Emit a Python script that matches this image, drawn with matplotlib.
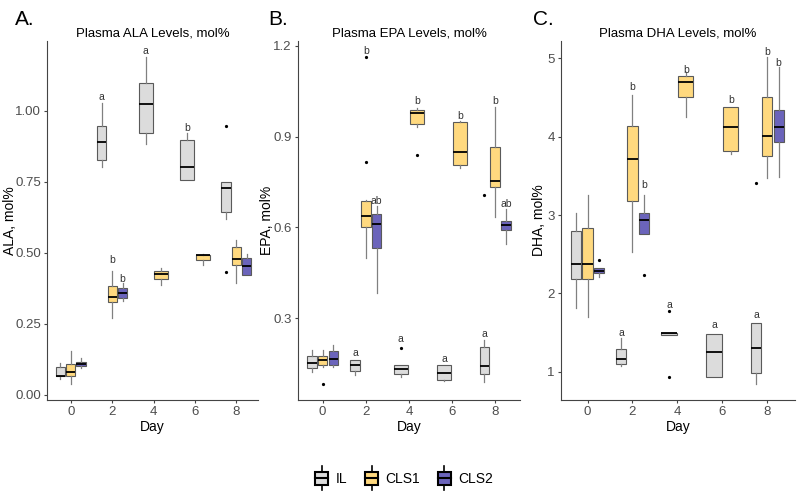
import matplotlib
matplotlib.use("Agg")
import matplotlib.pyplot as plt
from matplotlib.legend_handler import HandlerBase
from matplotlib.patches import Rectangle, Patch
from matplotlib.lines import Line2D

plt.rcParams['font.family'] = ['Liberation Sans', 'DejaVu Sans']

# ---- data: box stats as (whislo, q1, med, q3, whishi) ----
DAYS = [0, 2, 4, 6, 8]
CLS2_DAYS = [0, 2, 8]
GROUPS = ["IL", "CLS1", "CLS2"]
COLORS = {"IL": "#DCDCDC", "CLS1": "#FFD97F", "CLS2": "#6B64BB"}

# ALA
ALA_IL = [(0.055, 0.066, 0.068, 0.098, 0.112), (0.803, 0.826, 0.890, 0.945, 1.027),
          (0.881, 0.922, 1.025, 1.097, 1.188), (0.755, 0.755, 0.801, 0.895, 0.922),
          (0.619, 0.642, 0.729, 0.750, 0.750)]
ALA_IL_OUT = [[], [], [], [], [0.947, 0.431]]
ALA_CLS1 = [(0.039, 0.065, 0.081, 0.107, 0.154), (0.272, 0.327, 0.345, 0.384, 0.435),
            (0.386, 0.406, 0.427, 0.436, 0.448), (0.458, 0.474, 0.492, 0.493, 0.495),
            (0.394, 0.456, 0.479, 0.519, 0.545)]
ALA_CLS1_OUT = [[], [], [], [], []]
ALA_CLS2 = [(0.095, 0.102, 0.109, 0.116, 0.129), (0.331, 0.341, 0.360, 0.376, 0.394),
            (0.422, 0.422, 0.452, 0.482, 0.494)]
ALA_CLS2_OUT = [[], [], []]
ALA_LETTERS = [("IL", 2, "a", 1.047), ("IL", 4, "a", 1.211), ("IL", 6, "b", 0.939),
               ("CLS1", 2, "b", 0.474), ("CLS2", 2, "b", 0.408)]

# EPA
EPA_IL = [(0.122, 0.137, 0.152, 0.176, 0.196), (0.114, 0.125, 0.144, 0.161, 0.163),
          (0.106, 0.117, 0.131, 0.147, 0.147), (0.092, 0.097, 0.120, 0.144, 0.145),
          (0.088, 0.115, 0.143, 0.205, 0.227)]
EPA_IL_OUT = [[], [], [0.203], [], [0.708]]
EPA_CLS1 = [(0.139, 0.147, 0.161, 0.174, 0.196), (0.499, 0.603, 0.639, 0.687, 0.690),
            (0.933, 0.942, 0.977, 0.988, 0.995), (0.796, 0.805, 0.849, 0.947, 0.951),
            (0.634, 0.735, 0.752, 0.865, 0.999)]
EPA_CLS1_OUT = [[0.084], [1.162, 0.815], [0.838], [], []]
EPA_CLS2 = [(0.139, 0.145, 0.167, 0.191, 0.211), (0.384, 0.532, 0.610, 0.645, 0.670),
            (0.544, 0.590, 0.609, 0.621, 0.662)]
EPA_CLS2_OUT = [[], [], []]
EPA_LETTERS = [("IL", 2, "a", 0.185), ("IL", 4, "a", 0.233), ("IL", 6, "a", 0.165),
               ("IL", 8, "a", 0.249), ("CLS1", 2, "b", 1.182), ("CLS2", 2, "ab", 0.689),
               ("CLS1", 4, "b", 1.018), ("CLS1", 6, "b", 0.969), ("CLS1", 8, "b", 1.019),
               ("CLS2", 8, "ab", 0.678)]

# DHA
DHA_IL = [(1.82, 2.19, 2.37, 2.80, 3.03), (1.08, 1.10, 1.17, 1.29, 1.43),
          (1.47, 1.47, 1.49, 1.50, 1.50), (0.94, 0.94, 1.25, 1.48, 1.48),
          (0.85, 0.98, 1.31, 1.62, 1.62)]
DHA_IL_OUT = [[], [], [1.78, 0.94], [], [3.41]]
DHA_CLS1 = [(1.70, 2.19, 2.38, 2.84, 3.25), (2.53, 3.18, 3.71, 4.13, 4.53),
            (4.25, 4.50, 4.69, 4.77, 4.82), (3.78, 3.82, 4.12, 4.38, 4.38),
            (3.47, 3.75, 4.01, 4.51, 5.01)]
DHA_CLS1_OUT = [[], [], [], [], []]
DHA_CLS2 = [(2.21, 2.26, 2.29, 2.32, 2.32), (2.76, 2.76, 2.94, 3.02, 3.25),
            (3.49, 3.93, 4.12, 4.34, 4.89)]
DHA_CLS2_OUT = [[2.43], [2.24], []]
DHA_LETTERS = [("IL", 2, "a", 1.50), ("IL", 4, "a", 1.85), ("IL", 6, "a", 1.60),
               ("IL", 8, "a", 1.72), ("CLS1", 2, "b", 4.63), ("CLS2", 2, "b", 3.38),
               ("CLS1", 4, "b", 4.85), ("CLS1", 6, "b", 4.47), ("CLS1", 8, "b", 5.08),
               ("CLS2", 8, "b", 4.94)]

DODGE = 1.5  # total dodge width in days


def slots(present):
    # dodge2-like placement: groups present at each day share the width
    pos = {}
    for d in DAYS:
        here = [g for g in GROUPS if d in present[g]]
        n = len(here)
        w = DODGE / n
        for i, g in enumerate(here):
            pos[(g, d)] = (d - DODGE / 2 + w * (i + 0.5), w * 0.9)
    return pos


def draw_panel(ax, series, letters):
    present = {g: series[g][0] for g in GROUPS}
    pos = slots(present)
    for g in GROUPS:
        days, stats, outs = series[g]
        bx = []
        for s, o in zip(stats, outs):
            bx.append(dict(whislo=s[0], q1=s[1], med=s[2], q3=s[3], whishi=s[4], fliers=o))
        ax.bxp(bx, positions=[pos[(g, d)][0] for d in days],
               widths=[pos[(g, d)][1] for d in days],
               patch_artist=True, showcaps=False, manage_ticks=False,
               boxprops=dict(facecolor=COLORS[g], edgecolor="#5a5a5a", linewidth=0.8),
               medianprops=dict(color="black", linewidth=1.3),
               whiskerprops=dict(color="#808080", linewidth=0.9),
               flierprops=dict(marker="o", markersize=1.3, markerfacecolor="black",
                               markeredgecolor="black"))
    for g, d, t, y in letters:
        ax.text(pos[(g, d)][0], y, t, ha="center", va="center", fontsize=7.5, color="#333333")
    ax.spines["top"].set_visible(False)
    ax.spines["right"].set_visible(False)
    for s in ["left", "bottom"]:
        ax.spines[s].set_color("#444444")
        ax.spines[s].set_linewidth(0.8)
    ax.tick_params(colors="#444444", labelcolor="#4D4D4D", labelsize=9.5, length=2.5,
                   width=0.8, pad=2)
    ax.set_xticks(DAYS)
    ax.set_xlabel("Day", fontsize=10, labelpad=1)


class BoxKey(HandlerBase):
    def create_artists(self, legend, orig_handle, xdescent, ydescent, width, height,
                       fontsize, trans):
        x0, y0 = -xdescent, -ydescent
        cx = x0 + width / 2
        wl = Line2D([cx, cx], [y0 - 0.4 * height, y0 + 1.4 * height], color="black",
                    linewidth=1.2, transform=trans)
        box = Rectangle((x0, y0), width, height,
                        facecolor=orig_handle.get_facecolor(), edgecolor="black",
                        linewidth=1.5, transform=trans)
        med = Line2D([x0, x0 + width], [y0 + height / 2] * 2,
                     color="black", linewidth=1.5, transform=trans)
        return [wl, box, med]


fig = plt.figure(figsize=(8, 4.96), dpi=100)
bottom = 96 / 496
height = 359 / 496
axA = fig.add_axes([47 / 800, bottom, 211 / 800, height])
axB = fig.add_axes([298 / 800, bottom, 222 / 800, height])
axC = fig.add_axes([561 / 800, bottom, 234 / 800, height])

draw_panel(axA, {"IL": (DAYS, ALA_IL, ALA_IL_OUT), "CLS1": (DAYS, ALA_CLS1, ALA_CLS1_OUT),
                 "CLS2": (CLS2_DAYS, ALA_CLS2, ALA_CLS2_OUT)}, ALA_LETTERS)
draw_panel(axB, {"IL": (DAYS, EPA_IL, EPA_IL_OUT), "CLS1": (DAYS, EPA_CLS1, EPA_CLS1_OUT),
                 "CLS2": (CLS2_DAYS, EPA_CLS2, EPA_CLS2_OUT)}, EPA_LETTERS)
draw_panel(axC, {"IL": (DAYS, DHA_IL, DHA_IL_OUT), "CLS1": (DAYS, DHA_CLS1, DHA_CLS1_OUT),
                 "CLS2": (CLS2_DAYS, DHA_CLS2, DHA_CLS2_OUT)}, DHA_LETTERS)

axA.set_xlim(-1.15, 9.05)
axA.set_ylim(-0.018, 1.245)
axA.set_yticks([0, 0.25, 0.5, 0.75, 1.0])
axA.set_yticklabels(["0.00", "0.25", "0.50", "0.75", "1.00"])
axA.set_ylabel("ALA, mol%", fontsize=10)
axA.yaxis.set_label_coords(-0.142, 0.5)
axA.set_title("Plasma ALA Levels, mol%", fontsize=9.5, pad=3)

axB.set_xlim(-1.14, 9.15)
axB.set_ylim(0.030, 1.216)
axB.set_yticks([0.3, 0.6, 0.9, 1.2])
axB.set_yticklabels(["0.3", "0.6", "0.9", "1.2"])
axB.set_ylabel("EPA, mol%", fontsize=10)
axB.yaxis.set_label_coords(-0.11, 0.5)
axB.set_title("Plasma EPA Levels, mol%", fontsize=9.5, pad=3)

axC.set_xlim(-1.18, 9.23)
axC.set_ylim(0.642, 5.218)
axC.set_yticks([1, 2, 3, 4, 5])
axC.set_ylabel("DHA, mol%", fontsize=10)
axC.yaxis.set_label_coords(-0.064, 0.5)
axC.set_title("Plasma DHA Levels, mol%", fontsize=9.5, pad=3)

fig.text(15 / 800, 1 - 25 / 496, "A.", fontsize=15, ha="left", va="baseline")
fig.text(268 / 800, 1 - 25 / 496, "B.", fontsize=15, ha="left", va="baseline")
fig.text(533 / 800, 1 - 25 / 496, "C.", fontsize=15, ha="left", va="baseline")

handles = [Patch(facecolor=COLORS[g]) for g in GROUPS]
fig.legend(handles, GROUPS, handler_map={Patch: BoxKey()}, loc="center",
           bbox_to_anchor=(0.505, 1 - 479 / 496), ncol=3, frameon=False, fontsize=10,
           handlelength=0.95, handleheight=1.1, handletextpad=0.5, columnspacing=1.3)

fig.savefig("out.png", dpi=100)
